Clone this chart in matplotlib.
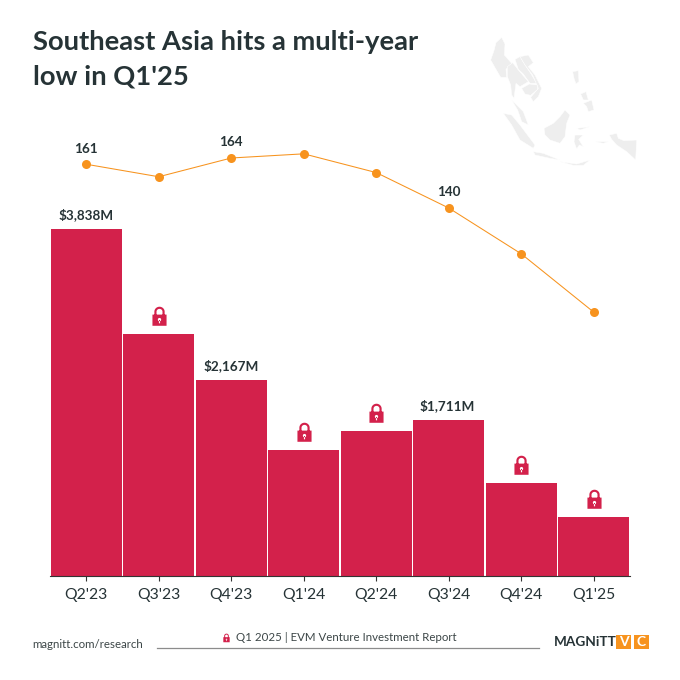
import numpy as np
import matplotlib
matplotlib.use('Agg')
import matplotlib.pyplot as plt
from matplotlib.path import Path
from matplotlib.patches import Polygon, Rectangle

plt.rcParams['font.family'] = ['Lato', 'DejaVu Sans']

quarters = ["Q2'23", "Q3'23", "Q4'23", "Q1'24", "Q2'24", "Q3'24", "Q4'24", "Q1'25"]
funding = [3838, 2677, 2167, 1394, 1604, 1725, 1029, 653]
deals = [161, 155, 164, 166, 157, 140, 118, 90]
funding_labels = {0: '$3,838M', 2: '$2,167M', 5: '$1,711M'}
deal_labels = {0: '161', 2: '164', 5: '140'}
locked = [1, 3, 4, 6, 7]

RED = '#d3214b'
ORANGE = '#f7931e'
DARK = '#263336'

# rough outline of the map behind the chart, in zoomed pixels
map_shapes = [
    # myanmar
    [(62, 120), (72, 92), (78, 68), (95, 52), (105, 72), (103, 105), (118, 122), (125, 130), (108, 148),
     (110, 172), (92, 172), (78, 148)],
    # thailand
    [(112, 140), (128, 128), (145, 150), (158, 165), (175, 185), (150, 200), (138, 190), (132, 235),
     (125, 225), (122, 195), (112, 170)],
    # laos
    [(135, 118), (150, 110), (165, 135), (182, 160), (200, 190), (180, 190), (160, 162), (145, 148)],
    # vietnam
    [(150, 110), (175, 105), (190, 128), (175, 140), (195, 165), (215, 205), (205, 230), (190, 245), (182, 232),
     (205, 205), (188, 165), (165, 135)],
    # cambodia
    [(155, 205), (178, 192), (202, 195), (203, 208), (182, 226), (165, 222)],
    # malaysia
    [(125, 240), (140, 255), (160, 275), (175, 315), (155, 305), (143, 270)],
    # sumatra
    [(100, 280), (125, 285), (150, 315), (165, 335), (195, 375), (190, 385), (150, 360), (125, 315)],
    # java
    [(190, 395), (220, 400), (270, 420), (240, 415), (195, 405)],
    # borneo
    [(222, 325), (250, 310), (270, 290), (285, 270), (300, 285), (290, 310), (285, 350), (270, 370), (240, 360),
     (225, 345)],
    # sulawesi
    [(315, 345), (340, 345), (326, 358), (340, 380), (328, 375), (320, 387), (312, 365)],
    # papua
    [(418, 345), (440, 340), (445, 355), (462, 362), (500, 360), (497, 420), (470, 395), (440, 375), (425, 358)],
    # philippines
    [(308, 155), (325, 152), (327, 185), (318, 192), (312, 175)],
    [(340, 250), (365, 240), (372, 270), (355, 275), (350, 260)],
    [(332, 222), (348, 215), (355, 240), (340, 240)],
    # small islands
    [(320, 325), (360, 320), (330, 330)],
    [(270, 425), (320, 432), (360, 420), (340, 436), (310, 436)],
    [(375, 365), (415, 365), (400, 370)],
]


def lock_marker():
    body = Path([(-0.85, -1), (0.85, -1), (0.85, 0.35), (-0.85, 0.35), (-0.85, -1)], closed=True)
    t = np.linspace(0, np.pi, 20)
    outer = np.column_stack([0.62 * np.cos(t), 0.7 + 0.6 * np.sin(t)])
    inner = np.column_stack([0.36 * np.cos(t[::-1]), 0.7 + 0.34 * np.sin(t[::-1])])
    shackle = Path(np.vstack([[(0.62, 0.3)], outer, [(-0.62, 0.3), (-0.36, 0.3)], inner, [(0.36, 0.3), (0.62, 0.3)]]),
                   closed=True)
    c = np.linspace(2 * np.pi, 0, 20)
    hole = Path(np.column_stack([0.2 * np.cos(c), -0.25 + 0.2 * np.sin(c)]), closed=True)
    slot = Path([(-0.07, -0.7), (-0.07, -0.3), (0.07, -0.3), (0.07, -0.7), (-0.07, -0.7)], closed=True)
    return Path.make_compound_path(body, shackle, hole, slot)


fig = plt.figure(figsize=(6.8, 6.8), dpi=100, facecolor='white')

# page layer in pixel coords
page = fig.add_axes([0, 0, 1, 1])
page.set_xlim(0, 680)
page.set_ylim(680, 0)
page.axis('off')

for shape in map_shapes:
    pts = [(470 + x / 3, 20 + y / 3) for x, y in shape]
    page.add_patch(Polygon(pts, closed=True, fc='#eeeeee', ec='white', lw=0.35))

page.text(33, 42, 'Southeast Asia hits a multi-year', fontsize=19.75, fontweight='bold', color=DARK, va='center')
page.text(33, 76, "low in Q1'25", fontsize=19.75, fontweight='bold', color=DARK, va='center')

page.text(32, 644, 'magnitt.com/research', fontsize=8.3, color='#3c4647', va='center')
page.plot([157, 539], [648, 648], color='#8c8c8c', lw=0.9)
page.plot([226], [638], marker=lock_marker(), ms=7, color=RED, ls='none', mew=0)
page.text(236, 637.5, 'Q1 2025 | EVM Venture Investment Report', fontsize=8.3, color='#3c4647', va='center')

page.text(554, 642, 'MAGNiTT', fontsize=9.8, fontweight='bold', color=DARK, va='center')
page.add_patch(Rectangle((616, 635), 15, 14, fc=ORANGE, ec='none'))
page.add_patch(Rectangle((634, 635), 15, 14, fc=ORANGE, ec='none'))
page.text(623.5, 642, 'V', fontsize=10, fontweight='bold', color='white', va='center', ha='center')
page.text(641.5, 642, 'C', fontsize=10, fontweight='bold', color='white', va='center', ha='center')

# chart: baseline at y=576, 3838 reaches y=229
ax = fig.add_axes([50 / 680, (680 - 576) / 680, 580 / 680, 476 / 680])
ax.patch.set_alpha(0)
x = np.arange(len(quarters))
ax.bar(x, funding, width=0.985, color=RED, linewidth=0)
ax.set_xlim(-0.5, len(quarters) - 0.5)
ax.set_ylim(0, 476 / 0.0904)
ax.set_yticks([])
ax.set_xticks(x)
ax.set_xticklabels(quarters, fontsize=11.3, color=DARK)
ax.tick_params(axis='x', length=3.5, width=0.8, color='#333333', pad=5)
for side in ['top', 'right', 'left']:
    ax.spines[side].set_visible(False)
ax.spines['bottom'].set_color('#333333')
ax.spines['bottom'].set_linewidth(0.8)

for i, lab in funding_labels.items():
    ax.annotate(lab, (i, funding[i]), xytext=(-1 if i == 5 else 0, 5.5), textcoords='offset points', ha='center',
                va='bottom', fontsize=9.7, fontweight='bold', color=DARK)

ax.plot([x[i] for i in locked], [funding[i] + 190 for i in locked], ls='none', marker=lock_marker(),
        ms=15.5, color=RED, mew=0)

# deals line on its own scale: 164 at y=158, 140 at y=208
ax2 = ax.twinx()
ax2.patch.set_alpha(0)
ax2.axis('off')
per_px = 24 / 50
ax2.set_ylim(164 - (576 - 158) * per_px, 164 + (158 - 100) * per_px)
ax2.plot(x, deals, color=ORANGE, lw=0.75, marker='o', ms=6.5, mew=0)
for i, lab in deal_labels.items():
    ax2.annotate(lab, (i, deals[i]), xytext=(0, 7), textcoords='offset points', ha='center', va='bottom',
                 fontsize=9.7, fontweight='bold', color=DARK)

fig.savefig('out.png', dpi=100)
